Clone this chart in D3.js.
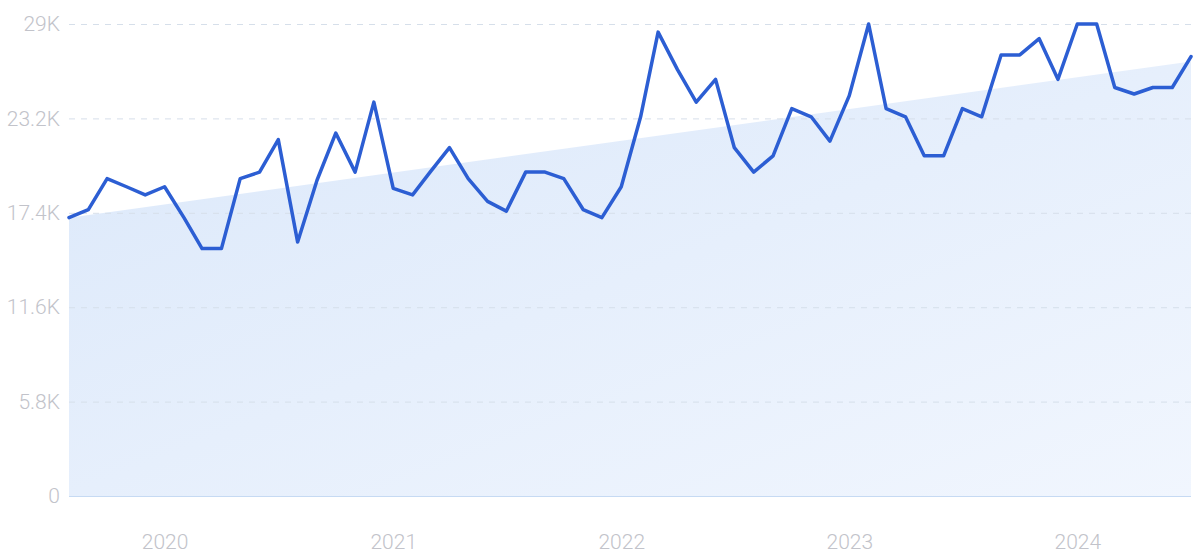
<!DOCTYPE html>
<html>
<head>
<meta charset="utf-8">
<script src="https://cdn.jsdelivr.net/npm/d3@7"></script>
<style>
  html, body { margin: 0; padding: 0; background: #ffffff; }
  svg { display: block; }
</style>
</head>
<body>
<svg id="chart" width="1200" height="559"></svg>
<script>
// Monthly values, Aug 2019 .. Jul 2024
const startMonth = "2019-08";
const values = [
  17100, 17600, 19500, 19000, 18500, 19000, 17100, 15200, 15200, 19500,
  19900, 21900, 15600, 19400, 22300, 19900, 24200, 18900, 18500, 19900,
  21400, 19500, 18100, 17500, 19900, 19900, 19500, 17600, 17100, 19000,
  23300, 28500, 26200, 24200, 25600, 21400, 19900, 20900, 23800, 23300,
  21800, 24600, 29000, 23800, 23300, 20900, 20900, 23800, 23300, 27100,
  27100, 28100, 25600, 29000, 29000, 25100, 24700, 25100, 25100, 27000
];
// Trend band (start and end values of the shaded area)
const trendValues = [17100, 26700];
const yTicks = [0, 5800, 11600, 17400, 23200, 29000];
const yTickLabels = ["0", "5.8K", "11.6K", "17.4K", "23.2K", "29K"];
const xTickYears = [2020, 2021, 2022, 2023, 2024];

(function () {
const parse = d3.timeParse("%Y-%m");
const t0 = parse(startMonth);
const dates = values.map((v, i) => d3.timeMonth.offset(t0, i));
const data = values.map((v, i) => ({ date: dates[i], value: v }));

const svg = d3.select("#chart");
const mLeft = 69, mRight = 1191, mTop = 24, mBottom = 496;

const x = d3.scaleTime()
  .domain([dates[0], dates[dates.length - 1]])
  .range([mLeft, mRight]);
const y = d3.scaleLinear().domain([0, 29000]).range([mBottom, mTop]);

const defs = svg.append("defs");
const grad = defs.append("linearGradient")
  .attr("id", "fillGrad")
  .attr("x1", "0%").attr("y1", "0%")
  .attr("x2", "100%").attr("y2", "100%");
grad.append("stop").attr("offset", "0%").attr("stop-color", "#dbe8fa");
grad.append("stop").attr("offset", "100%").attr("stop-color", "#f1f6fe");

// Trend area
const trendData = [
  { date: dates[0], value: trendValues[0] },
  { date: dates[dates.length - 1], value: trendValues[1] }
];
svg.append("path")
  .datum(trendData)
  .attr("fill", "url(#fillGrad)")
  .attr("d", d3.area().x(d => x(d.date)).y0(y(0)).y1(d => y(d.value)));

// Gridlines
const yAxis = d3.axisLeft(y)
  .tickValues(yTicks)
  .tickFormat((d, i) => yTickLabels[i])
  .tickSize(-(mRight - mLeft))
  .tickPadding(9);
const gy = svg.append("g")
  .attr("transform", `translate(${mLeft},0)`)
  .call(yAxis);
gy.select(".domain").remove();
gy.selectAll(".tick line")
  .attr("stroke", d => d === 0 ? "#c6daf3" : "#d6dfea")
  .attr("stroke-width", 1)
  .attr("stroke-dasharray", d => d === 0 ? null : "6,6");
gy.selectAll(".tick text")
  .attr("fill", "#c2c3ca")
  .attr("font-family", "Roboto, 'DejaVu Sans', sans-serif")
  .attr("font-size", 21)
  .attr("font-weight", 300);

// X axis labels
const xAxis = d3.axisBottom(x)
  .tickValues(xTickYears.map(yr => new Date(yr, 0, 1)))
  .tickFormat(d3.timeFormat("%Y"))
  .tickSize(0)
  .tickPadding(38);
const gx = svg.append("g")
  .attr("transform", `translate(0,${mBottom})`)
  .call(xAxis);
gx.select(".domain").remove();
gx.selectAll(".tick text")
  .attr("fill", "#c2c3ca")
  .attr("font-family", "Roboto, 'DejaVu Sans', sans-serif")
  .attr("font-size", 21)
  .attr("font-weight", 300);

// Line
svg.append("path")
  .datum(data)
  .attr("fill", "none")
  .attr("stroke", "#2c5ed3")
  .attr("stroke-width", 3.5)
  .attr("stroke-linejoin", "round")
  .attr("stroke-linecap", "round")
  .attr("d", d3.line().x(d => x(d.date)).y(d => y(d.value)));
})();
</script>
</body>
</html>
